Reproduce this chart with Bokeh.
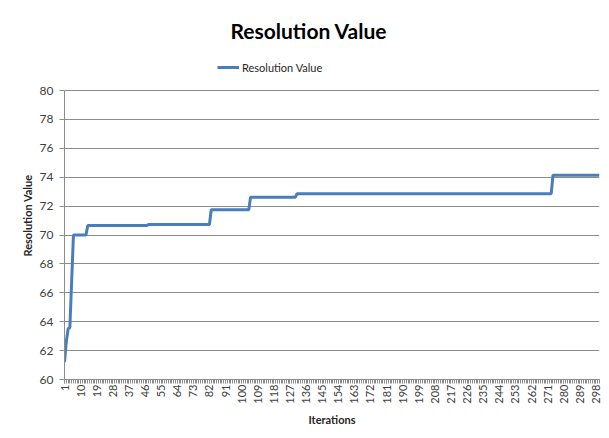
import math
from bokeh.plotting import figure
from bokeh.models import (Range1d, FixedTicker, Legend, LegendItem, ColumnDataSource)
from bokeh.embed import file_html
from bokeh.resources import INLINE

# ---- data ----
step_levels = [61.2, 62.6, 63.5, 63.6, 66.8, 70.0, 70.66, 70.72, 71.75, 72.62, 72.85, 74.14]
step_counts = [1, 1, 1, 1, 1, 8, 34, 35, 22, 26, 143, 27]
x_tick_labels = list(range(1, 300, 9))
y_ticks = list(range(60, 81, 2))
y_min, y_max = 60, 80

values = []
for lv, n in zip(step_levels, step_counts):
    values.extend([lv] * n)
iterations = list(range(1, len(values) + 1))

FONT = "Lato"
GRID = "#8c8c8c"
TXT = "#404040"
LINE = "#4A7EBB"

# layout: the frame extends above the value area so the legend can sit in it
FRAME_TOP, FRAME_BOTTOM, AXIS_TOP = 51, 379, 90   # figure pixels
frame_h = FRAME_BOTTOM - FRAME_TOP
y_end = y_min + (y_max - y_min) * frame_h / (FRAME_BOTTOM - AXIS_TOP)

p = figure(width=606, height=432, output_backend="svg", toolbar_location=None,
           x_range=Range1d(1, len(values)), y_range=Range1d(y_min, y_end),
           min_border_left=64, min_border_right=7, min_border_top=FRAME_TOP,
           min_border_bottom=432 - FRAME_BOTTOM)
p.outline_line_color = None
p.background_fill_color = "white"
p.border_fill_color = "white"

src = ColumnDataSource(dict(x=iterations, y=values))
r = p.line("x", "y", source=src, line_color=LINE, line_width=3)

# title
p.title.text = "Resolution Value"
p.title.align = "left"
p.title.offset = 166
p.title.text_font = FONT
p.title.text_font_size = "21px"
p.title.text_font_style = "bold"
p.title.text_color = "#000000"
p.title.standoff = 18

# x axis
xa = p.xaxis[0]
xa.ticker = FixedTicker(ticks=x_tick_labels, minor_ticks=iterations)
xa.major_label_orientation = math.pi / 2
xa.major_tick_out = 4
xa.major_tick_in = 0
xa.minor_tick_out = 4
xa.minor_tick_in = 0
xa.axis_line_color = GRID
xa.major_tick_line_color = GRID
xa.minor_tick_line_color = GRID
xa.major_label_text_font = FONT
xa.major_label_text_font_size = "11px"
xa.major_label_text_color = TXT
xa.major_label_standoff = 1
xa.axis_label = "Iterations"
xa.axis_label_text_font = FONT
xa.axis_label_text_font_size = "11px"
xa.axis_label_text_font_style = "bold"
xa.axis_label_text_color = "#262626"
xa.axis_label_standoff = 6

# y axis
ya = p.yaxis[0]
ya.ticker = FixedTicker(ticks=y_ticks)
ya.bounds = (y_min, y_max)
ya.major_tick_out = 5
ya.major_tick_in = 0
ya.minor_tick_line_color = None
ya.axis_line_color = GRID
ya.major_tick_line_color = GRID
ya.major_label_text_font = FONT
ya.major_label_text_font_size = "12px"
ya.major_label_text_color = TXT
ya.major_label_standoff = 6
ya.axis_label = "Resolution Value"
ya.axis_label_text_font = FONT
ya.axis_label_text_font_size = "11px"
ya.axis_label_text_font_style = "bold"
ya.axis_label_text_color = "#262626"
ya.axis_label_standoff = 3

p.xgrid.grid_line_color = None
p.ygrid.ticker = FixedTicker(ticks=y_ticks)
p.ygrid.grid_line_color = GRID
p.ygrid.grid_line_width = 1

legend = Legend(items=[LegendItem(label="Resolution Value", renderers=[r])],
                location=(153, 305), orientation="horizontal",
                glyph_width=22, glyph_height=14, label_height=14, label_standoff=3,
                padding=0, margin=0, spacing=0,
                label_text_font=FONT, label_text_font_size="11px", label_text_color="#262626",
                border_line_color=None, background_fill_alpha=0)
p.add_layout(legend, "center")

open("out.html", "w").write(file_html(p, INLINE))
